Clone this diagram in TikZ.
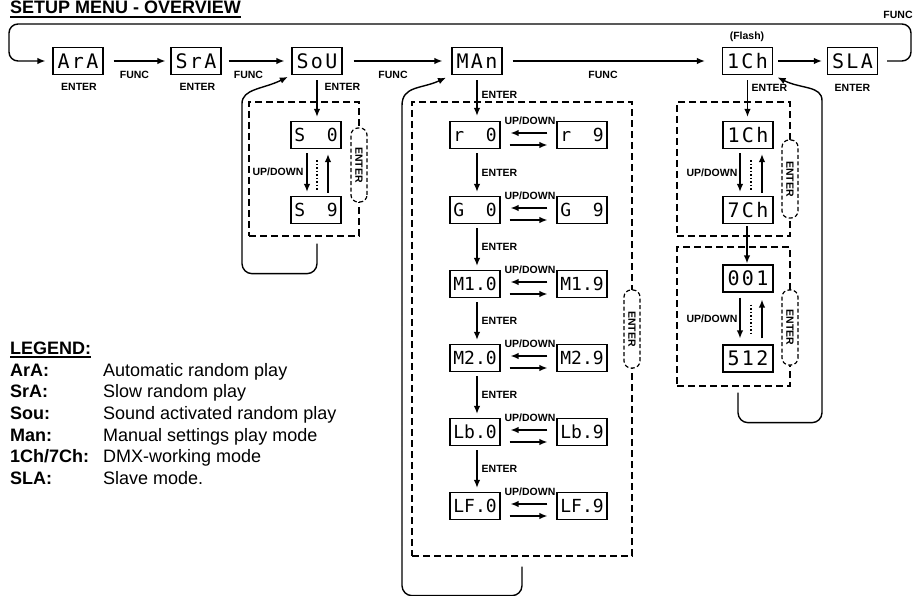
\documentclass[tikz,border=0pt]{standalone}
\usepackage{fontspec}
\setmainfont{Liberation Sans}
\newfontfamily\segfont{DejaVu Sans Mono}
\newfontfamily\segwide[LetterSpace=12]{DejaVu Sans Mono}
\usetikzlibrary{arrows.meta}
\begin{document}
\begin{tikzpicture}[x=1pt,y=-1pt,
 arr/.style={-{Latex[length=8pt,width=6.5pt]},line width=1.4pt},
 disp/.style={draw,line width=1.2pt,minimum width=50pt,minimum height=27pt,inner sep=0pt,font=\segfont\fontsize{18}{18}\selectfont},
 dispw/.style={disp,font=\segwide\fontsize{20}{20}\selectfont},
 grp/.style={draw,line width=1.3pt,dash pattern=on 7pt off 4pt,inner sep=0pt},
 lbl/.style={font=\bfseries\fontsize{10.5}{12}\selectfont,inner sep=0pt},
 capsule/.style={draw,fill=white,line width=1.2pt,dash pattern=on 4pt off 2.5pt,rounded corners=7pt,minimum width=#1,minimum height=16pt,inner sep=0pt,rotate=-90,font=\bfseries\fontsize{10.5}{12}\selectfont},
 dotline/.style={line width=1.4pt,dash pattern=on 1.5pt off 2pt},
 backarr/.style={arr,rounded corners=10pt},
 legk/.style={font=\bfseries\fontsize{18}{21}\selectfont,anchor=base west,inner sep=0pt},
 legv/.style={font=\fontsize{18}{21}\selectfont,anchor=base west,inner sep=0pt}
]
\fill[white] (0,0) rectangle (913,596);
\useasboundingbox (0,0) rectangle (913,596);

% title
\node[legk] (title) at (10,14) {SETUP MENU - OVERVIEW};
\draw[line width=1.3pt] ([yshift=-3pt]title.base west) -- ([yshift=-3pt]title.base east);
\node[lbl] (funcTR) at (898,15) {FUNC};

% top row
\node[dispw] (ArA) at (78,61) {ArA};
\node[dispw] (SrA) at (196,61) {SrA};
\node[dispw] (SoU) at (317,61) {SoU};
\node[dispw] (MAn) at (477,61) {MAn};
\node[dispw] (Ch1) at (747.5,61) {1Ch};
\node[dispw] (SLA) at (852.5,61) {SLA};

\node[lbl] (eArA) at (79,86.5) {ENTER};
\node[lbl] (eSrA) at (197.5,86.5) {ENTER};
\node[lbl] (eSLA) at (852.5,87.5) {ENTER};
\node[lbl] (eSoU) at (342.5,87) {ENTER};
\node[lbl] (eMAn) at (499.5,94.5) {ENTER};
\node[lbl] (eCh1) at (769.5,87.5) {ENTER};
\node[lbl] (flash) at (747,36.5) {(Flash)};
\node[lbl] (f1) at (134.5,75) {FUNC};
\node[lbl] (f2) at (248.5,75) {FUNC};
\node[lbl] (f3) at (393,75) {FUNC};
\node[lbl] (f4) at (603,75) {FUNC};

\draw[arr,shorten <=10pt,shorten >=5pt] (ArA) -- (SrA);
\draw[arr,shorten <=7pt,shorten >=7pt] (SrA) -- (SoU);
\draw[arr,shorten <=11pt,shorten >=9pt] (SoU) -- (MAn);
\draw[arr,shorten <=10pt,shorten >=17pt] (MAn) -- (Ch1);
\draw[arr,shorten <=5pt,shorten >=5pt] (Ch1) -- (SLA);

\coordinate (tr) at (911,24);
\coordinate (tl) at (9,24);
\draw[arr,rounded corners=9pt,shorten <=9pt,shorten >=7pt] (SLA.east) -| (tr) -- (tl) |- (ArA.west);

% Sou group
\node[grp,minimum width=110pt,minimum height=134pt] (gS) at (304,169) {};
\node[disp] (S0) at (316,135) {S~~0};
\node[disp] (S9) at (316,210) {S~~9};
\draw[arr,shorten <=5pt,shorten >=4pt] (SoU.south) -- (SoU.south |- S0.north);
\draw[arr,shorten <=4pt,shorten >=4pt] ([xshift=-9pt]S0.south) -- ([xshift=-9pt]S9.north);
\draw[arr,shorten <=3pt,shorten >=5pt] ([xshift=12pt]S9.north) -- ([xshift=12pt]S0.south);
\draw[dotline] ([xshift=1pt,yshift=-11pt]S0.south) -- ([xshift=1pt,yshift=6pt]S9.north);
\node[lbl] (udS) at (278,172) {UP/DOWN};
\node[capsule=74pt] (cS) at (359,165) {ENTER};
\draw[backarr,shorten >=4pt] ([xshift=13pt,yshift=-7pt]gS.south) -- ++(0,30) -| ++(-75,-160) .. controls +(0,-25) and +(-28,14) .. (SoU.south west);

% MAn group
\node[grp,minimum width=220pt,minimum height=454pt] (gM) at (522,329) {};
\node[disp] (Lr) at (475,135) {r~~0};
\node[disp] (Rr) at (582,135) {r~~9};
\node[disp] (LG) at (475,210) {G~~0};
\node[disp] (RG) at (582,210) {G~~9};
\node[disp] (LMa) at (475,284) {M1.0};
\node[disp] (RMa) at (582,284) {M1.9};
\node[disp] (LMb) at (475,358) {M2.0};
\node[disp] (RMb) at (582,358) {M2.9};
\node[disp] (LLb) at (475,432) {Lb.0};
\node[disp] (RLb) at (582,432) {Lb.9};
\node[disp] (LLF) at (475,506) {LF.0};
\node[disp] (RLF) at (582,506) {LF.9};
\draw[arr,shorten <=5pt,shorten >=5pt] (MAn.south) -- ([xshift=2pt]Lr.north);
\foreach \n/\y in {r/135,G/210,Ma/284,Mb/358,Lb/432,LF/506} {
  \draw[arr,shorten <=9pt,shorten >=10pt] ([yshift=2pt]R\n.west) -- ([yshift=2pt]L\n.east);
  \draw[arr,shorten <=9pt,shorten >=9pt] ([yshift=-10pt]L\n.east) -- ([yshift=-10pt]R\n.west);
  \node[lbl] (ud\n) at (530,\y-14) {UP/DOWN};
}
\foreach \a/\b/\m in {r/G/172.5,G/Ma/247,Ma/Mb/321,Mb/Lb/395,Lb/LF/469} {
  \draw[arr,shorten <=4pt,shorten >=4pt] ([xshift=2pt]L\a.south) -- ([xshift=2pt]L\b.north);
  \node[lbl] (en\a) at (499.5,\m) {ENTER};
}
\node[capsule=78pt] (cM) at (632,329) {ENTER};
\draw[backarr,shorten >=6pt] ([yshift=-10pt]gM.south) -- ++(0,29) -| ++(-120,-480) .. controls +(0,-30) and +(-30,14) .. (MAn.south west);

% 1Ch groups
\node[grp,minimum width=113pt,minimum height=134pt] (g1) at (733.5,169) {};
\node[grp,minimum width=113pt,minimum height=139pt] (g2) at (733.5,316.5) {};
\node[dispw] (c1) at (748,135) {1Ch};
\node[dispw] (c7) at (748,210) {7Ch};
\node[dispw] (d1) at (748,278.5) {001};
\node[dispw] (d5) at (748,358.5) {512};
\draw[arr,shorten <=5pt,shorten >=4pt] (Ch1.south) -- (Ch1.south |- c1.north);
\draw[arr,shorten <=2pt,shorten >=1pt] ([xshift=-1pt]c7.south) -- ([xshift=-1pt]d1.north);
\draw[arr,shorten <=4pt,shorten >=4pt] ([xshift=-8pt]c1.south) -- ([xshift=-8pt]c7.north);
\draw[arr,shorten <=3pt,shorten >=5pt] ([xshift=14pt]c7.north) -- ([xshift=14pt]c1.south);
\draw[dotline] ([xshift=3pt,yshift=-11pt]c1.south) -- ([xshift=3pt,yshift=6pt]c7.north);
\draw[arr,shorten <=5pt,shorten >=6pt] ([xshift=-8pt]d1.south) -- ([xshift=-8pt]d5.north);
\draw[arr,shorten <=6pt,shorten >=7pt] ([xshift=14pt]d5.north) -- ([xshift=14pt]d1.south);
\draw[dotline] ([xshift=3pt,yshift=-12pt]d1.south) -- ([xshift=3pt,yshift=11pt]d5.north);
\node[lbl] (ud1) at (712,173) {UP/DOWN};
\node[lbl] (ud2) at (712,319) {UP/DOWN};
\node[capsule=78pt] (ce1) at (790,179) {ENTER};
\node[capsule=75pt] (ce2) at (790,327.5) {ENTER};
\draw[backarr,shorten >=5pt] ([xshift=4.5pt,yshift=-6pt]g2.south) -- ++(0,30) -| ++(84,-312) .. controls +(0,-25) and +(28,14) .. (Ch1.south east);

% legend
\node[legk] (legT) at (10,354) {LEGEND:};
\draw[line width=1.3pt] ([yshift=-3pt]legT.base west) -- ([yshift=-3pt]legT.base east);
\node[legk] (k1) at (10,376) {ArA:};
\node[legv] (v1) at (103,376) {Automatic random play};
\node[legk] (k2) at (10,397.7) {SrA:};
\node[legv] (v2) at (103,397.7) {Slow random play};
\node[legk] (k3) at (10,419.3) {Sou:};
\node[legv] (v3) at (103,419.3) {Sound activated random play};
\node[legk] (k4) at (10,441) {Man:};
\node[legv] (v4) at (103,441) {Manual settings play mode};
\node[legk] (k5) at (10,462.7) {1Ch/7Ch:};
\node[legv] (v5) at (103,462.7) {DMX-working mode};
\node[legk] (k6) at (10,484.3) {SLA:};
\node[legv] (v6) at (103,484.3) {Slave mode.};
\end{tikzpicture}
\end{document}
